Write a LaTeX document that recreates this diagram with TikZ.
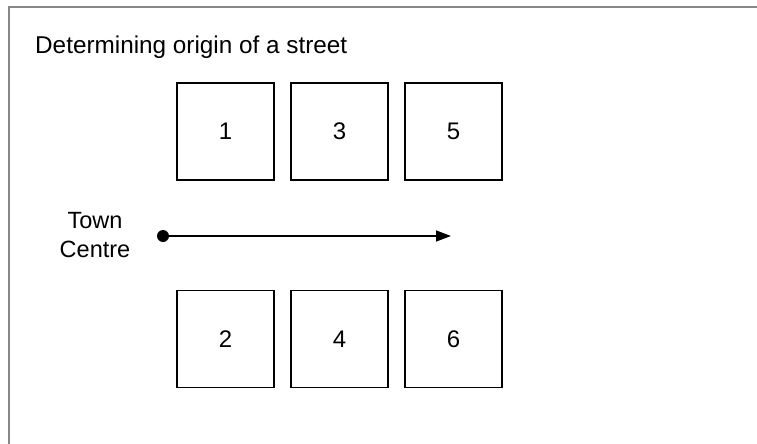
\documentclass[tikz,border=0pt]{standalone}
\usepackage{fontspec}
\setmainfont{Liberation Sans}
\usetikzlibrary{arrows.meta}
\begin{document}
\begin{tikzpicture}[x=1pt,y=-1pt,
  lot/.style={draw=black,line width=1.4pt,minimum width=97pt,minimum height=97pt,inner sep=0pt,font=\fontsize{24}{28}\selectfont},
  frameline/.style={draw=black!47,line width=2pt},
  lbl/.style={inner sep=0pt,font=\fontsize{23.5}{29}\selectfont}]
\useasboundingbox (0,0) rectangle (757,444);
\draw[frameline] (9,444) -- (9,7) -- (757,7);
\node[lbl,anchor=base west,font=\fontsize{24.3}{29}\selectfont] (title) at (35,53) {Determining origin of a street};
\node[lot] (b1) at (225.5,131.5) {1};
\node[lot] (b3) at (339.5,131.5) {3};
\node[lot] (b5) at (453.5,131.5) {5};
\node[lot] (b2) at (225.5,339) {2};
\node[lot] (b4) at (339.5,339) {4};
\node[lot] (b6) at (453.5,339) {6};
\node[lbl,align=center] (tc) at (95,235) {Town\\Centre};
\fill (163,236) circle (6pt);
\coordinate (start) at (163,236);
\coordinate (end) at (451,236);
\draw[line width=1.4pt,-{Triangle[length=15pt,width=11pt]}] (start) -- (end);
\end{tikzpicture}
\end{document}
